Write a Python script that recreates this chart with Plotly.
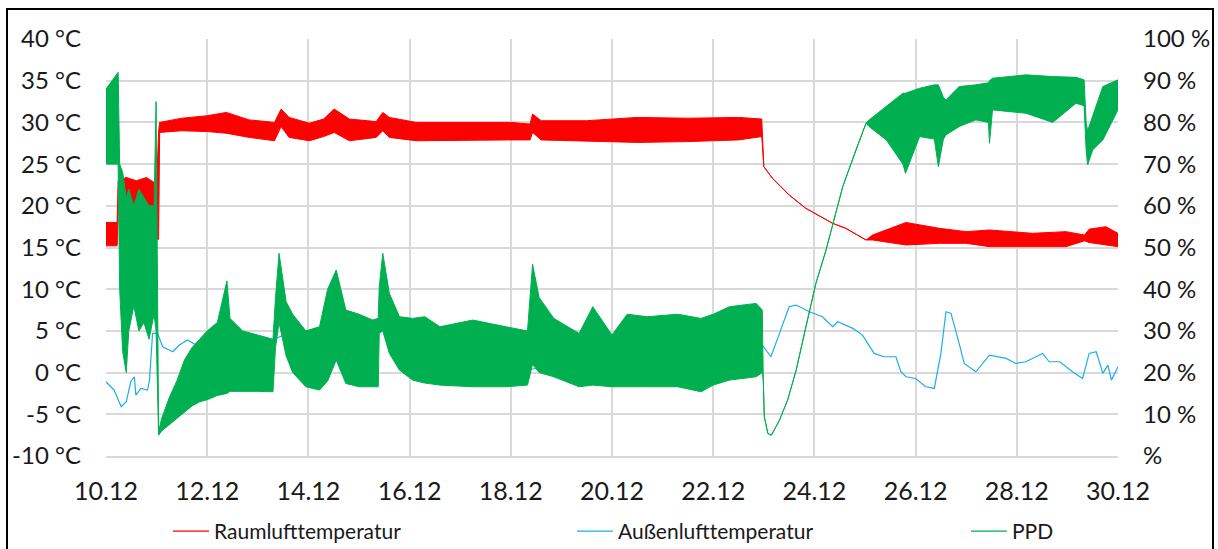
import plotly.graph_objects as go

# time axis: day of December (10.12 .. 30.12)
tick_days = [10, 12, 14, 16, 18, 20, 22, 24, 26, 28, 30]
tick_labels = ["10.12", "12.12", "14.12", "16.12", "18.12", "20.12",
               "22.12", "24.12", "26.12", "28.12", "30.12"]

temp_ticks = [-10, -5, 0, 5, 10, 15, 20, 25, 30, 35, 40]
temp_labels = ["-10 °C", "-5 °C", "0 °C", "5 °C", "10 °C", "15 °C",
               "20 °C", "25 °C", "30 °C", "35 °C", "40 °C"]
ppd_ticks = [0, 10, 20, 30, 40, 50, 60, 70, 80, 90, 100]
ppd_labels = ["%", "10 %", "20 %", "30 %", "40 %", "50 %",
              "60 %", "70 %", "80 %", "90 %", "100 %"]

# Raumlufttemperatur: oscillating signal, read as upper / lower envelope (°C)
room_t = [10.00, 10.22, 10.24, 10.40, 10.60, 10.80, 10.95, 10.98, 11.04, 11.06,
          11.50, 12.00, 12.38, 12.83, 13.33, 13.46, 13.62, 14.02, 14.30, 14.51,
          14.81, 15.34, 15.47, 15.60, 16.13, 17.00, 18.00, 18.38, 18.43, 18.60,
          19.50, 20.50, 21.50, 22.50, 22.96, 23.00, 23.17, 23.50, 23.83, 24.36,
          24.62, 25.02, 25.15, 25.81, 26.47, 27.00, 27.46, 28.31, 28.97, 29.34,
          29.43, 29.76, 30.00]
room_hi = [18.0, 18.0, 23.0, 23.4, 23.0, 23.4, 22.8, 19.0, 29.0, 30.0,
           30.5, 30.8, 31.2, 30.3, 30.0, 31.6, 30.6, 29.9, 30.4, 31.6,
           30.4, 30.1, 31.2, 30.6, 30.0, 30.0, 30.0, 29.8, 31.0, 30.2,
           30.2, 30.6, 30.5, 30.6, 30.4, 24.7, 23.3, 21.3, 19.7, 17.9,
           17.3, 15.9, 16.5, 18.0, 17.3, 16.9, 17.1, 16.7, 16.9, 16.5,
           17.2, 17.5, 16.7]
room_lo = [15.2, 15.2, 19.0, 19.2, 19.2, 19.0, 19.2, 15.8, 16.0, 28.8,
           29.0, 28.9, 28.7, 28.2, 27.8, 29.5, 28.2, 27.8, 28.3, 28.8,
           27.8, 28.2, 29.0, 28.2, 27.8, 27.8, 27.9, 27.9, 28.8, 27.9,
           27.8, 27.6, 27.7, 27.9, 28.3, 24.7, 23.3, 21.3, 19.7, 17.9,
           17.3, 15.9, 15.9, 15.3, 15.5, 15.5, 15.1, 15.1, 15.1, 15.8,
           15.6, 15.3, 15.1]

# Außenlufttemperatur (°C)
out_t = [10.00, 10.16, 10.30, 10.40, 10.49, 10.56, 10.59, 10.69, 10.82, 10.86,
         10.92, 11.02, 11.12, 11.32, 11.45, 11.61, 11.78, 11.98, 12.14, 12.20,
         12.60, 13.00, 13.43, 14.20, 15.00, 15.47, 16.50, 17.50, 18.40, 19.50,
         21.00, 22.00, 22.97, 23.14, 23.31, 23.50, 23.64, 23.90, 24.16, 24.36,
         24.46, 24.76, 24.95, 25.18, 25.38, 25.61, 25.71, 25.81, 26.00, 26.20,
         26.37, 26.50, 26.60, 26.70, 26.86, 26.96, 27.19, 27.46, 27.79, 27.98,
         28.18, 28.51, 28.64, 28.85, 29.10, 29.30, 29.43, 29.57, 29.70, 29.80,
         29.87, 30.00]
out_v = [-1.1, -2.1, -4.1, -3.5, -1.1, -0.5, -2.7, -1.9, -2.1, -0.9,
         4.7, 4.7, 3.1, 2.5, 3.3, 3.9, 3.3, 4.3, 5.3, 5.1,
         4.0, 3.0, 4.3, 5.3, 4.5, 5.3, 3.0, 1.5, 0.4, 1.5,
         2.5, 3.0, 3.3, 1.9, 4.7, 7.9, 8.1, 7.3, 6.7, 5.5,
         6.1, 5.3, 4.5, 2.3, 1.9, 1.9, 0.1, -0.5, -0.7, -1.7,
         -1.9, 2.3, 7.3, 7.1, 3.5, 1.1, 0.1, 2.1, 1.7, 1.1,
         1.3, 2.3, 1.3, 1.3, 0.1, -0.7, 2.3, 2.5, -0.1, 0.9,
         -0.9, 0.7]

# PPD: oscillating signal, read as upper / lower envelope (%)
ppd_t = [10.00, 10.12, 10.24, 10.27, 10.33, 10.40, 10.45, 10.55, 10.65, 10.75,
         10.85, 10.95, 10.99, 11.04, 11.10, 11.25, 11.40, 11.55, 11.70, 11.85,
         12.00, 12.20, 12.39, 12.45, 12.70, 13.00, 13.30, 13.35, 13.42, 13.56,
         13.69, 13.95, 14.22, 14.38, 14.55, 14.74, 15.00, 15.27, 15.38, 15.40,
         15.47, 15.60, 15.80, 16.06, 16.30, 16.60, 17.25, 17.90, 18.33, 18.43,
         18.56, 18.85, 19.35, 19.62, 20.00, 20.30, 20.70, 21.30, 21.76, 22.00,
         22.32, 22.85, 22.97, 22.99, 23.01, 23.08, 23.15, 23.31, 23.47, 23.64,
         23.83, 24.03, 24.23, 24.56, 24.82, 25.02, 25.08, 25.42, 25.75, 25.80,
         26.08, 26.37, 26.45, 26.55, 26.60, 26.86, 27.19, 27.44, 27.46, 27.52,
         28.18, 28.71, 29.17, 29.33, 29.37, 29.40, 29.50, 29.70, 30.00]
ppd_hi = [88.0, 90.0, 92.0, 70.0, 68.0, 62.0, 64.0, 60.0, 64.0, 62.0,
          60.0, 60.0, 85.0, 6.0, 9.0, 14.0, 18.0, 23.0, 26.0, 28.0,
          30.0, 32.0, 42.0, 33.0, 30.0, 29.0, 28.0, 38.0, 48.6, 37.0,
          34.0, 30.0, 31.0, 40.0, 44.6, 35.0, 34.0, 32.6, 33.0, 40.6,
          48.6, 39.0, 33.4, 33.0, 33.4, 31.0, 32.6, 31.0, 30.0, 46.0,
          38.0, 33.0, 29.4, 35.8, 29.0, 34.0, 33.4, 34.0, 33.0, 34.0,
          35.8, 36.6, 35.0, 18.2, 9.4, 5.4, 5.0, 8.6, 13.4, 20.6,
          31.0, 41.4, 49.4, 64.6, 73.4, 79.8, 80.6, 83.8, 87.0, 87.0,
          88.2, 89.0, 89.0, 86.0, 85.4, 88.6, 89.0, 89.5, 90.0, 90.6,
          91.4, 91.0, 90.8, 90.2, 80.0, 78.0, 81.4, 88.6, 90.2]
ppd_lo = [70.0, 70.0, 70.0, 40.0, 25.0, 20.0, 30.0, 36.0, 30.0, 32.0,
          28.0, 34.0, 30.0, 5.0, 6.0, 7.5, 9.0, 10.5, 12.0, 13.0,
          13.5, 14.5, 15.0, 15.5, 15.5, 15.5, 15.4, 26.0, 32.0, 24.0,
          20.0, 16.6, 15.8, 18.0, 23.0, 17.4, 16.6, 16.6, 16.6, 29.4,
          30.0, 24.6, 20.6, 18.2, 17.5, 17.0, 16.6, 16.6, 17.0, 22.0,
          20.0, 19.0, 16.6, 17.0, 16.6, 16.6, 16.6, 16.6, 15.4, 17.0,
          18.2, 19.0, 20.0, 18.2, 9.4, 5.4, 5.0, 8.6, 13.4, 20.6,
          31.0, 41.4, 49.4, 64.6, 73.4, 79.8, 79.0, 75.8, 70.0, 67.8,
          76.6, 76.0, 69.4, 76.0, 77.0, 79.0, 80.6, 80.0, 75.0, 83.0,
          82.2, 80.0, 84.6, 84.0, 73.4, 69.8, 73.4, 75.8, 83.0]

RED = "#FF0000"
BLUE = "#1AAFE6"
GREEN = "#00B050"
FONT = "Lato"


def band(t, hi, lo, color, axis):
    # closed polygon: upper envelope forward, lower envelope back
    return go.Scatter(
        x=t + t[::-1],
        y=hi + lo[::-1],
        fill="toself",
        fillcolor=color,
        line=dict(color=color, width=1),
        mode="lines",
        yaxis=axis,
        showlegend=False,
        hoverinfo="skip",
    )


def legend_entry(name, color, legend="legend"):
    return go.Scatter(x=[None], y=[None], mode="lines", name=name,
                      legend=legend, line=dict(color=color, width=1.3))


fig = go.Figure()
fig.add_trace(band(room_t, room_hi, room_lo, RED, "y"))
fig.add_trace(go.Scatter(x=out_t, y=out_v, mode="lines", showlegend=False,
                         line=dict(color=BLUE, width=1.2)))
fig.add_trace(band(ppd_t, ppd_hi, ppd_lo, GREEN, "y2"))

fig.add_trace(legend_entry("Raumlufttemperatur", RED))
fig.add_trace(legend_entry("Außenlufttemperatur", BLUE))
fig.add_trace(legend_entry("PPD", GREEN, "legend2"))

L, R, T, B = 106, 100, 39, 93
W, H = 1218, 549
pw, ph = W - L - R, H - T - B
leg_y = -(511 - (H - B)) / ph

fig.update_layout(
    width=W, height=H,
    margin=dict(l=L, r=R, t=T, b=B, autoexpand=False),
    paper_bgcolor="white",
    plot_bgcolor="white",
    font=dict(family=FONT, color="#1a1a1a", size=24),
    xaxis=dict(
        range=[10, 30], tickvals=tick_days, ticktext=tick_labels,
        showgrid=True, gridcolor="#D9D9D9", gridwidth=1.5,
        showline=True, linecolor="#D9D9D9", linewidth=1.5,
        zeroline=False, ticks="", ticklabelstandoff=12,
        tickfont=dict(size=25),
    ),
    yaxis=dict(
        range=[-10, 40], tickvals=temp_ticks, ticktext=temp_labels,
        showgrid=True, gridcolor="#D9D9D9", gridwidth=1.5,
        zeroline=False, showline=False, ticks="", ticklabelstandoff=24,
        tickfont=dict(size=24),
    ),
    yaxis2=dict(
        range=[0, 100], tickvals=ppd_ticks, ticktext=ppd_labels,
        overlaying="y", side="right", showgrid=False, zeroline=False,
        showline=False, ticks="", ticklabelstandoff=24,
        tickfont=dict(size=24),
    ),
    legend=dict(
        orientation="h", x=(168 - L) / pw, xanchor="left",
        y=leg_y, yanchor="top", itemwidth=36,
        entrywidth=353, entrywidthmode="pixels",
        font=dict(size=21), bgcolor="rgba(0,0,0,0)",
    ),
    legend2=dict(
        orientation="h", x=(966 - L) / pw, xanchor="left",
        y=leg_y, yanchor="top", itemwidth=36,
        font=dict(size=21), bgcolor="rgba(0,0,0,0)",
    ),
    shapes=[dict(
        type="rect", xref="paper", yref="paper",
        x0=(7 - L) / pw, x1=(1213 - L) / pw,
        y0=-(620 - (H - B)) / ph, y1=((H - B) - 9) / ph,
        line=dict(color="black", width=2), fillcolor="rgba(0,0,0,0)",
    )],
)

fig.write_html("out.html", config={"displayModeBar": False},
               post_script="document.body.style.margin='0';")
